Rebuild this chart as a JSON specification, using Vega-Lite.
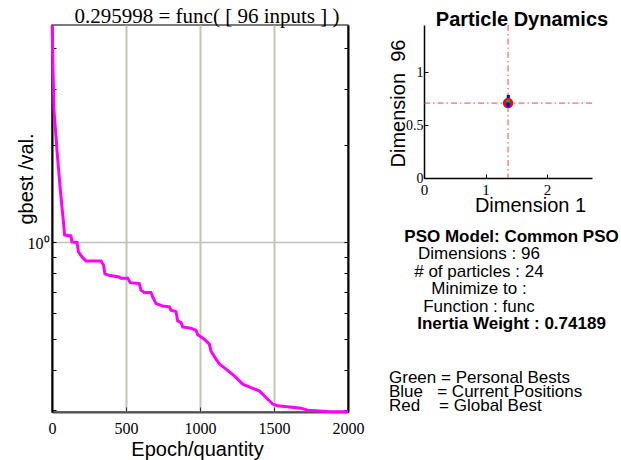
{
  "$schema": "https://vega.github.io/schema/vega-lite/v6.json",
  "background": "white",
  "padding": {"left": 15, "top": 5, "right": 0, "bottom": 0},
  "bounds": "flush",
  "spacing": 76,
  "datasets": {
    "gbest": [
      {"epoch": 1, "value": 4.72}, {"epoch": 7, "value": 3.40}, {"epoch": 13.5, "value": 2.56}, {"epoch": 34, "value": 1.92},
      {"epoch": 54, "value": 1.494}, {"epoch": 68, "value": 1.276}, {"epoch": 78, "value": 1.146}, {"epoch": 85, "value": 1.051},
      {"epoch": 128, "value": 1.044}, {"epoch": 135, "value": 1.0}, {"epoch": 169, "value": 0.996}, {"epoch": 179, "value": 0.931},
      {"epoch": 203, "value": 0.898}, {"epoch": 230, "value": 0.873}, {"epoch": 331, "value": 0.873}, {"epoch": 348, "value": 0.848},
      {"epoch": 358, "value": 0.795}, {"epoch": 385, "value": 0.787}, {"epoch": 453, "value": 0.778}, {"epoch": 466, "value": 0.771},
      {"epoch": 512, "value": 0.771}, {"epoch": 529, "value": 0.747}, {"epoch": 590, "value": 0.742}, {"epoch": 601, "value": 0.708},
      {"epoch": 624, "value": 0.696}, {"epoch": 669, "value": 0.696}, {"epoch": 680, "value": 0.675}, {"epoch": 703, "value": 0.643},
      {"epoch": 748, "value": 0.632}, {"epoch": 793, "value": 0.628}, {"epoch": 804, "value": 0.613}, {"epoch": 838, "value": 0.607},
      {"epoch": 849, "value": 0.568}, {"epoch": 872, "value": 0.561}, {"epoch": 883, "value": 0.544}, {"epoch": 939, "value": 0.539},
      {"epoch": 973, "value": 0.531}, {"epoch": 985, "value": 0.514}, {"epoch": 1029, "value": 0.498}, {"epoch": 1063, "value": 0.481},
      {"epoch": 1074, "value": 0.458}, {"epoch": 1108, "value": 0.432}, {"epoch": 1131, "value": 0.417}, {"epoch": 1176, "value": 0.402},
      {"epoch": 1232, "value": 0.383}, {"epoch": 1289, "value": 0.361}, {"epoch": 1345, "value": 0.352}, {"epoch": 1401, "value": 0.344},
      {"epoch": 1446, "value": 0.328}, {"epoch": 1491, "value": 0.313}, {"epoch": 1525, "value": 0.309}, {"epoch": 1682, "value": 0.304},
      {"epoch": 1728, "value": 0.2996}, {"epoch": 1863, "value": 0.2966}, {"epoch": 2000, "value": 0.295998}
    ],
    "particles": [
      {"kind": "Global Best", "d1": 1.366, "d96": 0.709},
      {"kind": "Personal Best", "d1": 1.366, "d96": 0.726},
      {"kind": "Personal Best", "d1": 1.366, "d96": 0.712},
      {"kind": "Current Position", "d1": 1.37, "d96": 0.771},
      {"kind": "Current Position", "d1": 1.366, "d96": 0.686},
      {"kind": "Current Position", "d1": 1.366, "d96": 0.700}
    ],
    "info": [
      {"line": 1, "text": "PSO Model: Common PSO"},
      {"line": 2, "text": "Dimensions : 96"},
      {"line": 3, "text": "# of particles : 24"},
      {"line": 4, "text": "Minimize to :"},
      {"line": 5, "text": "Function : func"},
      {"line": 6, "text": "Inertia Weight : 0.74189"}
    ],
    "legendText": [
      {"line": 1, "text": "Green = Personal Bests"},
      {"line": 2, "text": "Blue\u00a0\u00a0\u00a0= Current Positions"},
      {"line": 3, "text": "Red\u00a0\u00a0\u00a0\u00a0= Global Best"}
    ]
  },
  "hconcat": [
    {
      "width": 296,
      "height": 387,
      "view": {"stroke": "#505050", "strokeWidth": 1.5},
      "title": {"text": "0.295998 = func( [ 96 inputs ] )", "font": "Liberation Serif", "fontSize": 21, "fontWeight": "normal", "offset": -25, "baseline": "alphabetic", "dx": 7, "color": "#000"},
      "data": {"name": "gbest"},
      "encoding": {
        "x": {
          "field": "epoch", "type": "quantitative",
          "scale": {"domain": [0, 2000], "nice": false, "zero": false},
          "axis": {
            "values": [0, 500, 1000, 1500, 2000], "format": "d",
            "tickSize": -5, "tickColor": "#333", "tickWidth": 1,
            "labelFont": "Liberation Serif", "labelFontSize": 16, "labelBaseline": "alphabetic", "labelPadding": 26.7, "labelColor": "#000",
            "labelFlush": false, "labelOverlap": false,
            "grid": true, "gridColor": "#c4c4b8", "gridWidth": 2,
            "gridOpacity": {"condition": {"test": "datum.value > 0 && datum.value < 2000", "value": 1}, "value": 0},
            "domainColor": "#505050", "domainWidth": 2,
            "title": "Epoch/quantity", "titleFont": "Liberation Sans", "titleFontSize": 20, "titleFontWeight": "normal", "titleColor": "#000",
            "titleBaseline": "alphabetic", "titleY": 43, "titleX": 145, "titleAlign": "center"
          }
        }
      },
      "layer": [
        {
          "mark": {"type": "line", "strokeOpacity": 0},
          "encoding": {
            "y": {
              "field": "value", "type": "quantitative",
              "scale": {"type": "log", "domain": [0.2957, 4.73], "nice": false, "zero": false},
              "axis": {
                "orient": "right", "values": [0.3, 0.4, 0.5, 0.6, 0.7, 0.8, 0.9, 1, 2, 3, 4],
                "labels": false, "tickSize": -4, "tickColor": "#000", "grid": false,
                "domainColor": "#000", "domainWidth": 2, "title": null
              }
            }
          }
        },
        {
          "mark": {"type": "line", "color": "#ff00ff", "strokeWidth": 3, "strokeJoin": "miter"},
          "encoding": {
            "y": {
              "field": "value", "type": "quantitative",
              "scale": {"type": "log", "domain": [0.2957, 4.73], "nice": false, "zero": false},
              "axis": {
                "orient": "left", "values": [0.3, 0.4, 0.5, 0.6, 0.7, 0.8, 0.9, 1, 2, 3, 4],
                "tickSize": -4, "tickColor": "#000",
                "labelExpr": "datum.value == 1 ? '10⁰' : ''",
                "labelFont": "Liberation Serif", "labelFontSize": 16, "labelColor": "#000", "labelPadding": 7,
                "labelBaseline": "middle", "labelOffset": 2, "labelOverlap": false, "labelFlush": false,
                "grid": true, "gridColor": "#c0c0c0", "gridWidth": 1.5,
                "gridOpacity": {"condition": {"test": "datum.value == 1", "value": 1}, "value": 0},
                "domainColor": "#000", "domainWidth": 2,
                "title": "gbest /val.", "titleFont": "Liberation Sans", "titleFontSize": 20, "titleFontWeight": "normal", "titleColor": "#000",
                "titleAngle": 270, "titleAlign": "left", "titleBaseline": "alphabetic", "titleX": -20, "titleY": 199
              }
            }
          }
        }
      ],
      "resolve": {"axis": {"y": "independent"}}
    },
    {
      "bounds": "flush",
      "spacing": 20,
      "vconcat": [
        {
          "width": 168,
          "height": 153,
          "title": {"text": "Particle Dynamics", "font": "Liberation Sans", "fontSize": 20, "fontWeight": "bold", "offset": -21, "baseline": "alphabetic", "dx": 14, "color": "#000"},
          "data": {"name": "particles"},
          "encoding": {
            "x": {
              "field": "d1", "type": "quantitative",
              "scale": {"domain": [0, 2.73], "nice": false, "zero": false},
              "axis": {
                "values": [0, 1, 2], "format": "~g", "tickSize": -4, "tickColor": "#000",
                "labelFont": "Liberation Serif", "labelFontSize": 15, "labelColor": "#000", "labelPadding": 8, "labelFlush": false,
                "grid": false, "domainColor": "#000", "domainWidth": 1.5,
                "title": "Dimension 1", "titleFont": "Liberation Sans", "titleFontSize": 20, "titleFontWeight": "normal", "titleColor": "#000",
                "titleBaseline": "alphabetic", "titleY": 33, "titleX": 106, "titleAlign": "center"
              }
            },
            "y": {
              "field": "d96", "type": "quantitative",
              "scale": {"domain": [0, 1.448], "nice": false, "zero": false},
              "axis": {
                "values": [0, 0.5, 1], "format": "~g", "tickSize": -4, "tickColor": "#000",
                "labelFont": "Liberation Serif", "labelFontSize": 14, "labelColor": "#000", "labelPadding": 5, "labelFlush": false,
                "grid": false, "domainColor": "#000", "domainWidth": 1.5,
                "title": "Dimension\u00a0\u00a096", "titleFont": "Liberation Sans", "titleFontSize": 20, "titleFontWeight": "normal", "titleColor": "#000",
                "titleAngle": 270, "titleAlign": "center", "titleBaseline": "alphabetic", "titleX": -20, "titleY": 78
              }
            }
          },
          "layer": [
            {
              "transform": [{"filter": "datum.kind == 'Global Best'"}],
              "mark": {"type": "rule", "color": "#ff2020", "strokeWidth": 1, "strokeDash": [6, 3, 1.5, 3], "opacity": 0.85},
              "encoding": {"x": null}
            },
            {
              "transform": [{"filter": "datum.kind == 'Global Best'"}],
              "mark": {"type": "rule", "color": "#ff2020", "strokeWidth": 1, "strokeDash": [6, 3, 1.5, 3], "opacity": 0.85},
              "encoding": {"y": null}
            },
            {
              "transform": [{"filter": "datum.kind == 'Global Best'"}],
              "mark": {"type": "point", "shape": "circle", "filled": true, "color": "#ff0000", "size": 110, "opacity": 1}
            },
            {
              "transform": [{"filter": "datum.kind == 'Personal Best'"}],
              "mark": {"type": "point", "shape": "square", "filled": true, "color": "#00c000", "size": 10, "opacity": 1}
            },
            {
              "transform": [{"filter": "datum.kind == 'Current Position'"}],
              "mark": {"type": "point", "shape": "square", "filled": true, "color": "#0000ff", "size": 10, "opacity": 1}
            }
          ]
        },
        {
          "width": 168,
          "height": 140,
          "view": {"stroke": null},
          "data": {"name": "info"},
          "encoding": {
            "y": {"field": "line", "type": "quantitative", "scale": {"domain": [-1.209, 6.782], "reverse": true, "nice": false, "zero": false}, "axis": null},
            "text": {"field": "text", "type": "nominal"}
          },
          "layer": [
            {
              "transform": [{"filter": "datum.line == 1 || datum.line == 6"}],
              "mark": {"type": "text", "font": "Liberation Sans", "fontSize": 17, "fontWeight": "bold", "align": "center", "baseline": "middle", "color": "#000"},
              "encoding": {"x": {"datum": 0.521, "type": "quantitative", "scale": {"domain": [0, 1], "nice": false, "zero": false}, "axis": null}}
            },
            {
              "transform": [{"filter": "datum.line != 1 && datum.line != 6"}],
              "mark": {"type": "text", "font": "Liberation Sans", "fontSize": 17, "fontWeight": "normal", "align": "center", "baseline": "middle", "color": "#000"},
              "encoding": {"x": {"datum": 0.327, "type": "quantitative", "scale": {"domain": [0, 1], "nice": false, "zero": false}, "axis": null}}
            }
          ]
        },
        {
          "width": 168,
          "height": 60,
          "view": {"stroke": null},
          "data": {"name": "legendText"},
          "mark": {"type": "text", "font": "Liberation Sans", "fontSize": 17, "align": "left", "baseline": "middle", "color": "#000"},
          "encoding": {
            "x": {"datum": -0.2083, "type": "quantitative", "scale": {"domain": [0, 1], "nice": false, "zero": false}, "axis": null},
            "y": {"field": "line", "type": "quantitative", "scale": {"domain": [-0.392, 3.848], "reverse": true, "nice": false, "zero": false}, "axis": null},
            "text": {"field": "text", "type": "nominal"}
          }
        }
      ]
    }
  ],
  "config": {
    "view": {"stroke": null},
    "font": "Liberation Sans"
  }
}
